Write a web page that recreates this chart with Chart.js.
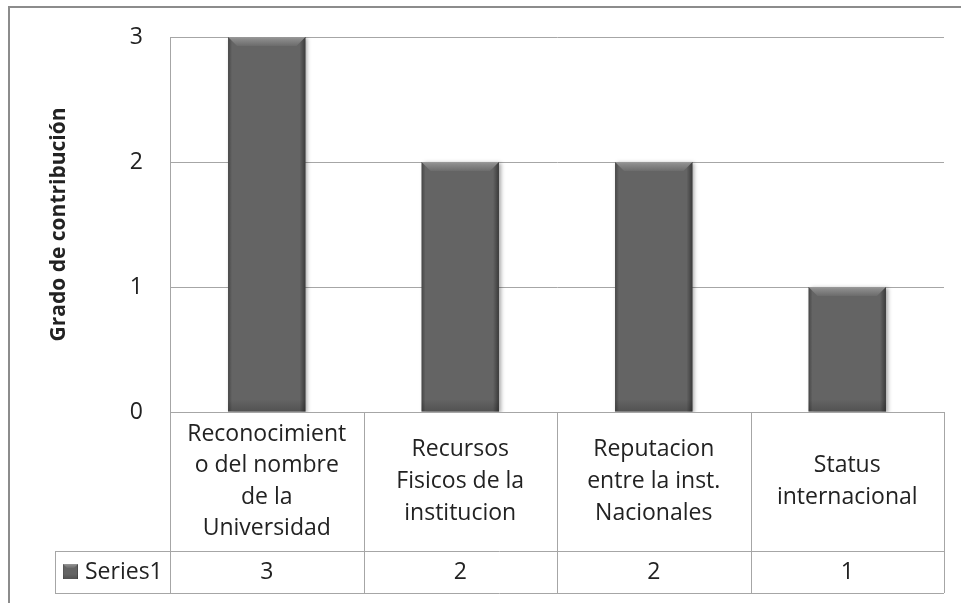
<!DOCTYPE html>
<html>
<head>
<meta charset="utf-8">
<script src="https://cdn.jsdelivr.net/npm/chart.js@4"></script>
<style>
  html, body { margin: 0; padding: 0; background: #ffffff; }
  #wrap { width: 961px; height: 603px; }
</style>
</head>
<body>
<div id="wrap"><canvas id="chart" width="961" height="603"></canvas></div>
<script>
// Categories (wrapped as in the data table), series and axis ticks
const categories = [
  ["Reconocimient", "o del nombre", "de la", "Universidad"],
  ["Recursos", "Fisicos de la", "institucion"],
  ["Reputacion", "entre la inst.", "Nacionales"],
  ["Status", "internacional"]
];
const seriesName = "Series1";
const seriesValues = [3, 2, 2, 1];
const yTicks = [0, 1, 2, 3];
const yTitle = "Grado de contribución";

const FONT = "'Open Sans', 'Noto Sans', sans-serif";
const TEXT = "#222222";
const LINE = "#a6a6a6";
const BAR = "#646464";

// Outer frame of the chart object
const framePlugin = {
  id: 'frame',
  beforeDraw(chart) {
    const ctx = chart.ctx;
    ctx.save();
    ctx.fillStyle = '#ffffff';
    ctx.fillRect(0, 0, chart.width, chart.height);
    ctx.strokeStyle = '#8c8c8c';
    ctx.lineWidth = 2;
    ctx.beginPath();
    ctx.moveTo(9, chart.height);
    ctx.lineTo(9, 7);
    ctx.lineTo(chart.width, 7);
    ctx.stroke();
    ctx.restore();
  }
};

// Soft drop shadow under the bars
const shadowPlugin = {
  id: 'barShadow',
  beforeDatasetsDraw(chart) {
    const ctx = chart.ctx;
    ctx.save();
    ctx.shadowColor = 'rgba(0,0,0,0.35)';
    ctx.shadowBlur = 4;
    ctx.shadowOffsetX = 2;
    ctx.shadowOffsetY = 1;
  },
  afterDatasetsDraw(chart) {
    chart.ctx.restore();
  }
};

// Bevel shading painted over a box
function shadeBox(ctx, left, top, right, bottom, bevel) {
  const w = right - left;
  // darker side edges
  let g = ctx.createLinearGradient(left, 0, right, 0);
  g.addColorStop(0, 'rgba(0,0,0,0.30)');
  g.addColorStop(Math.min(0.06, 4 / w), 'rgba(0,0,0,0.0)');
  g.addColorStop(Math.max(0.92, 1 - 6 / w), 'rgba(0,0,0,0.0)');
  g.addColorStop(1, 'rgba(0,0,0,0.42)');
  ctx.fillStyle = g;
  ctx.fillRect(left, top, w, bottom - top);
  // slightly darker base
  const bh = Math.min(12, (bottom - top) / 3);
  g = ctx.createLinearGradient(0, bottom - bh, 0, bottom);
  g.addColorStop(0, 'rgba(0,0,0,0)');
  g.addColorStop(1, 'rgba(0,0,0,0.18)');
  ctx.fillStyle = g;
  ctx.fillRect(left, bottom - bh, w, bh);
  // light top bevel
  g = ctx.createLinearGradient(0, top, 0, top + bevel);
  g.addColorStop(0, '#9a9a9a');
  g.addColorStop(0.25, '#8a8a8a');
  g.addColorStop(1, '#6c6c6c');
  ctx.fillStyle = g;
  ctx.beginPath();
  ctx.moveTo(left, top);
  ctx.lineTo(right, top);
  ctx.lineTo(right - bevel, top + bevel);
  ctx.lineTo(left + bevel, top + bevel);
  ctx.closePath();
  ctx.fill();
}

const bevelPlugin = {
  id: 'bevel',
  afterDatasetsDraw(chart) {
    const ctx = chart.ctx;
    const meta = chart.getDatasetMeta(0);
    ctx.save();
    meta.data.forEach(el => {
      const p = el.getProps(['x', 'y', 'base', 'width'], true);
      shadeBox(ctx, p.x - p.width / 2, p.y, p.x + p.width / 2, p.base, 9);
    });
    ctx.restore();
  }
};

// Data table under the plot: category row and series row
const tablePlugin = {
  id: 'dataTable',
  afterDraw(chart) {
    const ctx = chart.ctx;
    const xs = chart.scales.x;
    const labels = chart.data.labels;
    const ds = chart.data.datasets[0];
    const n = labels.length;
    const step = xs.getPixelForValue(1) - xs.getPixelForValue(0);
    const left = xs.getPixelForValue(0) - step / 2;
    const right = xs.getPixelForValue(n - 1) + step / 2;
    const top = chart.chartArea.bottom;
    const mid = top + 139;
    const bottom = mid + 42;
    const keyLeft = 55;
    const px = v => Math.round(v) + 0.5;

    ctx.save();
    ctx.strokeStyle = LINE;
    ctx.lineWidth = 1;
    ctx.beginPath();
    // horizontal rules
    ctx.moveTo(left, px(top)); ctx.lineTo(right, px(top));
    ctx.moveTo(keyLeft, px(mid)); ctx.lineTo(right, px(mid));
    ctx.moveTo(keyLeft, px(bottom)); ctx.lineTo(right, px(bottom));
    // vertical rules
    for (let i = 0; i <= n; i++) {
      const x = px(left + step * i);
      ctx.moveTo(x, top); ctx.lineTo(x, bottom);
    }
    ctx.moveTo(px(keyLeft), mid); ctx.lineTo(px(keyLeft), bottom);
    ctx.stroke();

    // category labels
    ctx.fillStyle = TEXT;
    ctx.font = "23px " + FONT;
    ctx.textAlign = 'center';
    ctx.textBaseline = 'middle';
    const lh = 31.6;
    const cy = (top + mid) / 2;
    labels.forEach((lab, i) => {
      const lines = Array.isArray(lab) ? lab : [lab];
      const cx = xs.getPixelForValue(i);
      const y0 = cy - (lines.length - 1) * lh / 2;
      lines.forEach((t, k) => ctx.fillText(t, cx, y0 + k * lh));
    });

    // series row: key, name, values
    const ry = (mid + bottom) / 2;
    ctx.save();
    ctx.fillStyle = BAR;
    ctx.fillRect(63, ry - 8, 15, 15);
    shadeBox(ctx, 63, ry - 8, 78, ry + 7, 4);
    ctx.restore();
    ctx.fillStyle = TEXT;
    ctx.textAlign = 'left';
    ctx.fillText(ds.label, 85, ry);
    ctx.textAlign = 'center';
    ds.data.forEach((v, i) => ctx.fillText(String(v), xs.getPixelForValue(i), ry));
    ctx.restore();
  }
};

new Chart(document.getElementById('chart'), {
  type: 'bar',
  data: {
    labels: categories,
    datasets: [{
      label: seriesName,
      data: seriesValues,
      backgroundColor: BAR,
      borderWidth: 0,
      categoryPercentage: 0.5,
      barPercentage: 0.8
    }]
  },
  options: {
    responsive: false,
    animation: false,
    events: [],
    layout: { padding: { top: 37, right: 17, left: 0, bottom: 0 } },
    plugins: {
      legend: { display: false },
      tooltip: { enabled: false }
    },
    scales: {
      x: {
        ticks: { display: false },
        grid: { display: false },
        border: { display: false },
        afterFit(scale) { scale.height = 191; }
      },
      y: {
        min: yTicks[0],
        max: yTicks[yTicks.length - 1],
        afterBuildTicks(scale) { scale.ticks = yTicks.map(v => ({ value: v })); },
        ticks: {
          padding: 27,
          color: TEXT,
          font: { family: FONT, size: 23 }
        },
        grid: { color: LINE, lineWidth: 1, drawTicks: false },
        border: { color: LINE, width: 1 },
        title: {
          display: true,
          text: yTitle,
          color: TEXT,
          font: { family: FONT, size: 21, weight: 'bold' },
          padding: { top: 46, bottom: 0 }
        },
        afterFit(scale) {
          scale.width = 170;
          // the layout padding already leaves room for the end labels
          scale.paddingTop = 0;
          scale.paddingBottom = 0;
        }
      }
    }
  },
  plugins: [framePlugin, shadowPlugin, bevelPlugin, tablePlugin]
});
</script>
</body>
</html>
